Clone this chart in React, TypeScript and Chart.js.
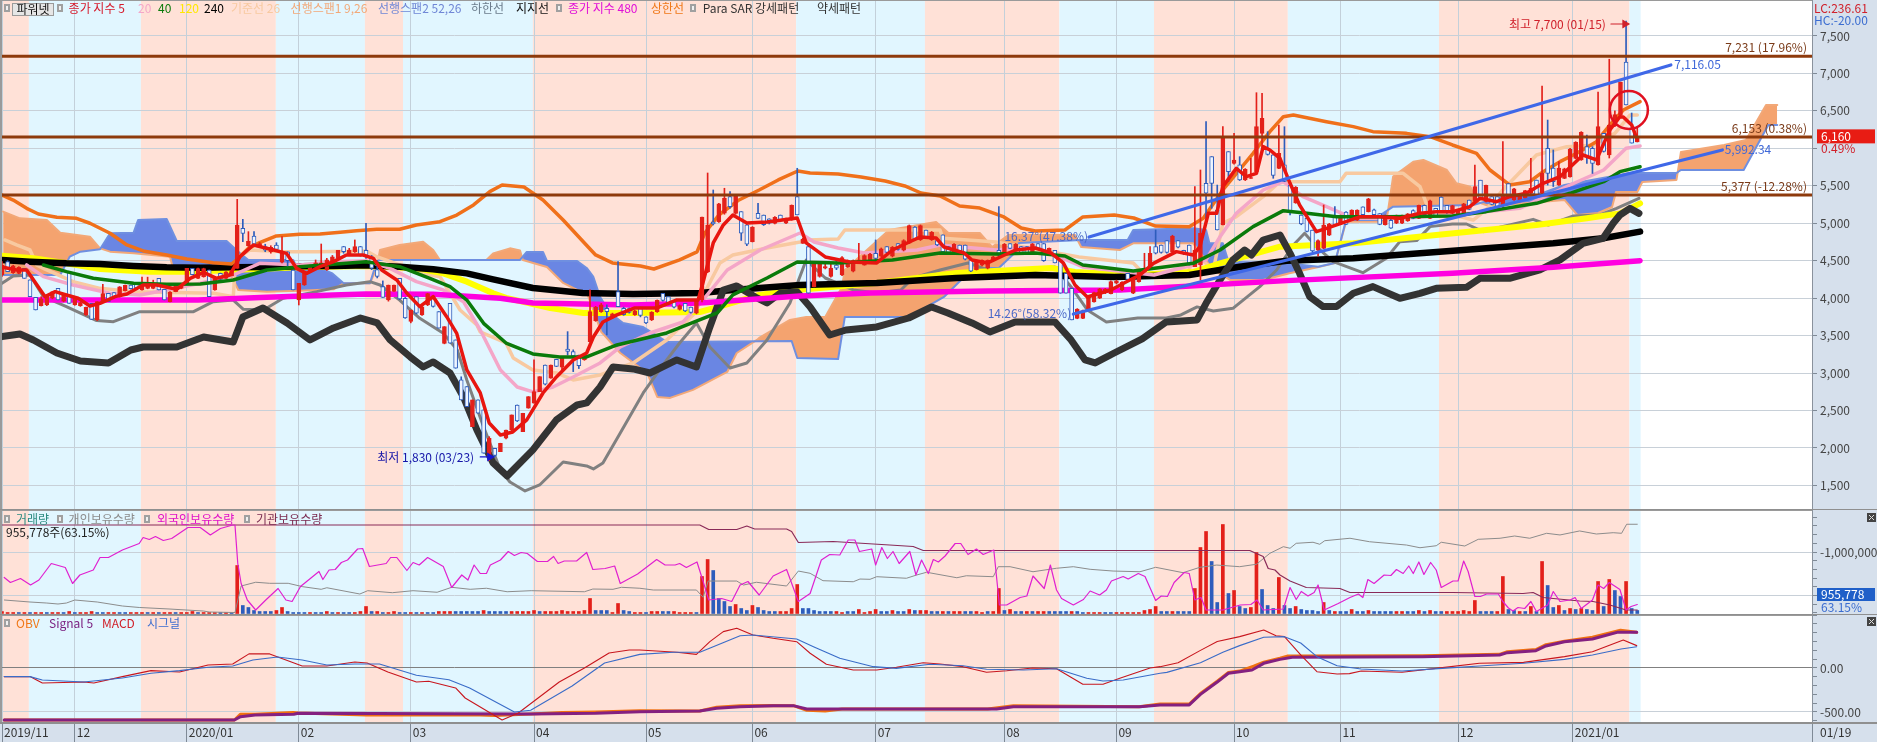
import React, { useEffect, useRef } from "react";
import { Chart, registerables } from "chart.js";

Chart.register(...registerables);

type Pt = [number, number];

const FONT = '"Noto Sans CJK KR", "Noto Sans", sans-serif';
const LAST_AXIS_DAY = 323.2;

// trading-day index of each month tick on the time axis
const monthDays = [0, 13, 33, 53, 73, 95, 115, 134, 156, 179, 199, 220, 239, 260, 280.5];
const monthLabels = ["2019/11", "12", "2020/01", "02", "03", "04", "05", "06", "07", "08", "09", "10", "11", "12", "2021/01"];

// background regimes: [from day, to day, kind]
const regimes: [number, number, string][] = [
  [0, 4.8, "p"], [4.8, 24.8, "b"], [24.8, 48.9, "p"], [48.9, 64.8, "b"], [64.8, 71.6, "p"], [71.6, 94.8, "b"],
  [94.8, 141.8, "p"], [141.8, 164.8, "b"], [164.8, 188.8, "p"], [188.8, 205.7, "b"], [205.7, 229.6, "p"],
  [229.6, 256.6, "b"], [256.6, 290.6, "p"], [290.6, 292.6, "b"],
];

// candles by day: [open, high, low, close]
const candles: number[][] = [
  [4309,4487,4290,4443],[4487,4500,4354,4354],[4340,4440,4330,4430],[4330,4420,4325,4415],[4398,4398,4265,4265],[4243,4243,4020,4020],[4011,4011,3842,3842],[3900,4020,3895,3990],[3908,4040,3900,4042],[4000,4090,3990,4085],
  [4131,4131,3975,3975],[3960,4065,3950,4060],[4354,4354,3931,3931],[3910,4020,3905,4015],[3900,3945,3890,3940],[3775,3880,3770,3877],[3931,3931,3717,3717],[3709,3953,3700,3953],[3950,4185,3945,4060],[4065,4065,3953,3953],
  [4075,4075,4010,4012],[4020,4155,4015,4150],[4100,4176,4095,4170],[4176,4176,4120,4125],[4198,4198,4130,4135],[4110,4280,4105,4200],[4130,4280,4125,4200],[4130,4240,4125,4200],[4265,4265,4110,4110],[4118,4118,3975,3975],
  [3953,4087,3950,4080],[4087,4176,4085,4170],[4131,4200,4125,4195],[4198,4398,4195,4398],[4398,4398,4310,4315],[4265,4400,4260,4395],[4287,4400,4280,4395],[4376,4376,4020,4020],[4109,4265,4105,4260],[4330,4335,4245,4250],
  [4265,4355,4260,4350],[4300,4376,4295,4370],[4398,5319,4398,4977],[4932,5052,4754,4865],[4700,4888,4690,4760],[4830,4888,4700,4720],[4700,4745,4690,4730],[4690,4720,4620,4640],[4620,4700,4600,4680],[4710,4740,4640,4650],
  [4480,4821,4470,4620],[4620,4620,4400,4500],[4376,4376,4110,4110],[3975,4198,3909,4198],[4176,4354,4170,4354],[4354,4440,4340,4440],[4440,4510,4400,4470],[4430,4723,4420,4470],[4380,4532,4370,4510],[4490,4570,4480,4550],
  [4530,4640,4520,4640],[4690,4690,4600,4620],[4590,4665,4580,4640],[4620,4777,4610,4690],[4690,4690,4560,4580],[4640,5000,4530,4560],[4550,4570,4380,4400],[4380,4500,4270,4290],[4155,4230,4010,4010],[3975,4175,3960,4175],
  [4090,4176,4090,4176],[4265,4265,3980,3990],[3997,4010,3730,3735],[3690,3840,3670,3840],[4020,4020,3790,3800],[3775,3890,3770,3885],[3910,4065,3900,4060],[3998,4000,3880,3890],[3820,3820,3600,3600],[3397,3620,3390,3620],
  [3930,3930,3400,3400],[3442,3442,3064,3064],[2908,2950,2641,2641],[2819,2819,2552,2552],[2285,2641,2285,2641],[2641,2641,2463,2463],[2508,2508,1929,1929],[1890,2151,1830,2130],[1996,1996,1885,1900],[1952,2063,1952,2063],
  [2130,2240,2120,2240],[2240,2441,2230,2441],[2574,2574,2352,2360],[2218,2463,2218,2463],[2530,2686,2530,2686],[2597,3175,2597,2752],[2752,2952,2752,2952],[3108,3108,2841,2850],[2930,3108,2930,3108],[3184,3184,3086,3090],
  [3080,3220,3020,3200],[3320,3553,3240,3290],[3286,3310,3019,3228],[3240,3240,3060,3100],[3180,3240,3170,3240],[3420,4110,3420,3820],[3700,3890,3690,3880],[3820,3930,3810,3910],[3865,3910,3509,3820],[3740,3800,3730,3790],
  [4087,4488,3887,3887],[3865,3880,3770,3780],[3860,3870,3800,3810],[3780,3840,3770,3830],[3880,3880,3750,3770],[3750,3750,3660,3670],[3710,3820,3700,3810],[3820,3976,3810,3970],[4065,4065,3960,3970],[4020,4020,3910,3920],
  [3950,3950,3870,3880],[3850,3910,3840,3900],[3930,3930,3820,3830],[3880,3880,3800,3810],[3800,3980,3790,3970],[3976,5083,3950,5083],[4350,5671,4340,4977],[5017,5444,4977,4990],[5022,5266,5010,5260],[5133,5467,5120,5333],
  [5356,5422,5200,5222],[5130,5380,5120,5370],[5155,5155,4770,4866],[4980,5000,4700,4720],[4755,4955,4750,4950],[5133,5267,5060,5066],[5110,5110,4970,4980],[5060,5060,4990,5000],[4999,5090,4990,5080],[5110,5110,5020,5030],
  [5000,5070,4995,5065],[5044,5245,5040,5240],[5355,5734,5111,5111],[4730,4800,4730,4790],[4688,4733,4065,4065],[4154,4466,4150,4460],[4290,4466,4280,4460],[4400,4470,4390,4420],[4290,4470,4280,4400],[4440,4510,4380,4400],
  [4310,4555,4300,4540],[4420,4510,4410,4500],[4360,4510,4350,4500],[4470,4733,4460,4510],[4440,4580,4440,4570],[4510,4600,4500,4590],[4600,4777,4480,4530],[4560,4670,4550,4660],[4690,4690,4600,4610],[4560,4690,4550,4680],
  [4730,4730,4640,4650],[4640,4780,4630,4770],[4733,4977,4730,4970],[4950,4955,4770,4780],[4780,4977,4770,4970],[4910,4910,4800,4810],[4780,4890,4770,4880],[4770,4780,4700,4710],[4844,4844,4600,4620],[4690,4690,4600,4610],
  [4600,4730,4590,4720],[4710,4710,4620,4630],[4710,4710,4510,4520],[4510,4510,4355,4360],[4380,4510,4375,4505],[4440,4510,4430,4505],[4400,4510,4390,4505],[4510,4560,4500,4550],[4640,5222,4550,4570],[4600,4730,4595,4720],
  [4730,4730,4660,4665],[4640,4730,4630,4720],[4690,4690,4600,4600],[4690,4690,4580,4580],[4620,4730,4610,4725],[4730,4730,4660,4665],[4730,4730,4490,4500],[4580,4670,4575,4665],[4640,4640,4470,4470],[4510,4510,4065,4065],
  [4330,4330,4065,4065],[4130,4130,3710,3710],[3730,3860,3725,3855],[3730,3840,3725,3835],[3860,4020,3855,4010],[3950,4080,3945,4075],[4000,4130,3995,4125],[4070,4130,4060,4120],[4060,4230,4055,4220],[4200,4240,4190,4230],
  [4109,4220,4100,4210],[4330,4330,4240,4250],[4067,4280,4060,4270],[4220,4373,4215,4370],[4350,4599,4340,4370],[4420,4688,4415,4598],[4689,4910,4590,4600],[4710,4710,4600,4610],[4770,4770,4600,4610],[4620,4840,4615,4830],
  [4770,4770,4670,4680],[4640,4640,4580,4590],[4710,4710,4440,4450],[4420,5489,4420,4643],[4443,5711,4240,4866],[5533,6356,5066,5400],[5889,5889,5200,5533],[5177,5510,4910,4910],[4977,6289,4977,6156],[5956,5956,5555,5689],
  [5800,6200,5790,5845],[5780,5889,5570,5580],[5580,5730,5570,5720],[5600,5867,5600,5610],[5689,6743,5689,6290],[6200,6735,6000,6400],[6000,6222,5910,5920],[5912,5930,5600,5640],[5733,6312,5730,5933],[5780,6289,5555,5560],
  [5510,5510,5110,5155],[5270,5490,5266,5480],[5110,5110,4980,4990],[5065,5065,4885,4890],[4910,4910,4620,4630],[4640,4780,4560,4770],[4665,5244,4660,4977],[4840,4999,4835,4990],[5090,5221,4980,4985],[5000,5110,4995,5105],
  [5150,5155,4980,4985],[5040,5180,5035,5175],[5040,5180,5035,5175],[5220,5220,5110,5115],[5155,5333,5150,5325],[5180,5190,5110,5115],[5130,5130,4980,4985],[4980,5110,4975,5105],[5040,5060,4930,4935],[5000,5110,4995,5105],
  [5000,5110,4995,5105],[5030,5130,5025,5125],[5170,5180,5060,5065],[5065,5244,5060,5240],[5240,5244,5110,5115],[5065,5310,5060,5300],[5200,5200,5090,5100],[5350,5355,5155,5160],[5240,5240,5130,5140],[5130,5240,5125,5235],
  [5110,5180,5105,5175],[5130,5266,5125,5260],[5310,5310,5180,5185],[5290,5778,5285,5490],[5575,5575,5310,5320],[5290,5510,5285,5505],[5355,5355,5245,5250],[5355,5355,5200,5205],[5245,6089,5180,5380],[5530,5530,5355,5360],
  [5310,5466,5305,5460],[5290,5380,5285,5375],[5335,5440,5330,5435],[5400,5867,5395,5466],[5578,5578,5375,5380],[5400,6832,5395,5666],[6000,6378,5510,5666],[5735,5978,5490,5555],[5510,5822,5505,5735],[5600,5735,5595,5725],
  [5620,6000,5615,5990],[5867,6089,5860,6080],[5845,6223,5840,6215],[6022,6178,5800,5890],[6000,6022,5665,5800],[5778,6752,5775,6290],[6200,6200,5950,5960],[5911,7190,5871,6312],[6300,6500,6290,6450],[6445,6885,6440,6885],
  [7153,7700,6579,6579],[6270,6472,6070,6070],[6085,6285,6085,6160],
];

const ma5: Pt[] = [[0.2,4412],[2.6,4376],[4.4,4376],[7.7,4020],[9.5,4087],[11.5,4042],[13.6,3998],[15.7,3895],[17.5,3931],[20.2,4020],[22.3,4056],[25.2,4176],[27.6,4176],[31.2,4118],[33.6,4265],[36,4345],[38.3,4265],[40.7,4309],[42.5,4554],[44.9,4710],[48.5,4643],[50.8,4598],[52.6,4398],[54.4,4331],[56.8,4420],[59.2,4487],[61.5,4576],[64.5,4576],[66.3,4532],[67.8,4376],[70.5,4243],[72.3,4065],[74.6,3887],[77,4020],[79.4,3753],[81.2,3530],[83,3041],[85.4,2734],[87,2333],[89,2173],[91.2,2213],[93.7,2374],[96.6,2734],[99,2948],[102,3175],[104.4,3268],[105.6,3482],[107.3,3682],[109.8,3776],[113,3870],[117,3869],[120.5,3976],[124.3,3976],[125.2,4216],[127,4737],[128.8,4977],[130.5,5110],[133,5003],[136.6,5017],[142,5070],[143.6,4737],[147,4550],[151.3,4483],[156.2,4470],[159,4643],[162,4750],[164,4817],[166.8,4803],[168.2,4683],[171.8,4603],[173.2,4510],[176,4470],[179,4576],[181,4643],[184.5,4670],[187.3,4603],[189.5,4470],[191.6,4176],[193.8,4016],[198,4109],[200.7,4216],[203.2,4309],[205.6,4465],[209.7,4621],[212.7,4576],[213.9,4688],[215.4,5132],[216.9,5132],[218,5489],[220.4,5733],[222.2,5622],[224,5667],[225.2,6023],[226.4,5978],[228.2,5867],[230,5533],[231.7,5244],[234.7,4888],[236.5,4932],[240,5021],[242.5,5088],[246,5088],[249.6,5066],[253.2,5133],[256.1,5155],[259,5155],[262.1,5221],[263.9,5333],[266.9,5288],[269.2,5355],[272.2,5400],[275.2,5533],[278.2,5622],[282.3,5911],[284.7,5845],[287.1,6245],[288.9,6423],[289.5,6420],[291,6312],[292,6112]];
const ma20: Pt[] = [[4.4,4443],[7.4,4287],[12.7,4176],[19.3,4065],[24.6,4042],[29.4,4109],[35.4,4198],[41.3,4309],[46,4465],[53.2,4443],[59.2,4487],[65,4501],[69.3,4398],[74,4220],[78.8,4109],[82.4,3953],[85.4,3575],[89,3041],[92,2814],[94.8,2748],[98.4,2814],[102,2948],[106.8,3135],[110.4,3348],[115.7,3535],[121.6,3682],[125.2,3976],[129.5,4376],[135.4,4643],[142.5,4870],[145,4750],[149.3,4670],[154,4603],[163.4,4643],[167.5,4710],[177.5,4643],[184.5,4683],[188.8,4550],[193,4416],[205.7,4309],[212.7,4443],[215,4510],[217.5,4821],[220.4,5132],[225.2,5444],[228.8,5555],[232.3,5355],[236.5,5222],[241.3,5066],[250.2,5066],[259,5110],[271,5199],[280,5511],[286,5711],[290,6000],[292.5,6031]];
const ma40: Pt[] = [[7.4,4443],[11.5,4354],[16.3,4265],[23.5,4198],[29.4,4185],[35.4,4190],[41.3,4242],[47.3,4376],[53.2,4420],[65,4487],[71,4420],[76.4,4265],[80,4153],[83,3975],[86,3664],[90,3401],[94.8,3255],[99.6,3215],[104.4,3215],[109.8,3375],[118.7,3535],[127.7,3802],[130.5,4043],[136.6,4269],[142,4483],[149.3,4470],[159,4510],[167.5,4603],[177.5,4590],[184.5,4603],[189.8,4563],[193,4443],[202,4363],[212.7,4465],[217.5,4643],[223.4,4955],[228.8,5168],[233,5132],[238.3,5088],[247.2,5088],[259,5097],[265,5155],[274,5266],[280,5400],[286,5555],[288.9,5689],[292.5,5755]];
const ma120: Pt[] = [[0,4567],[5.6,4532],[11.5,4465],[17.5,4389],[26.4,4354],[33,4354],[41.3,4376],[53.2,4412],[65,4429],[74,4398],[78.8,4331],[83,4220],[87.7,4065],[90,4003],[97.9,3869],[103.8,3802],[112.7,3802],[124.6,3815],[127.3,3869],[135.2,4043],[142,4109],[156.2,4203],[170.4,4336],[187.4,4403],[191.6,4349],[202,4309],[212.7,4349],[217.5,4465],[228.2,4687],[241.3,4732],[253,4821],[265,4910],[274,4977],[283,5066],[288.9,5132],[292.5,5266]];
const ma240: Pt[] = [[0,4509],[5,4487],[11.5,4465],[17.5,4456],[23.5,4429],[29.4,4412],[35.4,4407],[41.3,4412],[47.3,4416],[53.2,4425],[59.2,4429],[65.1,4438],[71,4420],[77,4385],[83,4331],[87.7,4251],[94.8,4136],[103.7,4069],[112.7,4056],[124.6,4069],[130.5,4109],[142.5,4176],[156.2,4203],[170.4,4269],[184.5,4309],[198.6,4283],[212,4309],[221,4420],[229.4,4500],[241.3,4532],[253.2,4598],[265,4665],[277,4732],[285.9,4799],[292.5,4888]];
const ma480: Pt[] = [[0,3975],[17.5,3975],[35,3975],[47.3,4011],[59.2,4042],[65,4056],[77,4051],[89,3998],[94.8,3935],[112.7,3909],[124.6,3935],[142.5,4030],[155,4069],[176,4096],[199.6,4109],[229.4,4234],[259,4331],[277,4411],[292.5,4500]];
const kijun26: Pt[] = [[0.5,4777],[2.6,4710],[5,4643],[6.2,4443],[7.4,4398],[12.7,4220],[17.5,4131],[23.5,4087],[37.8,4065],[41.3,4020],[41.6,4376],[42.2,4554],[44.3,4643],[50.2,4621],[56.2,4621],[65.1,4630],[66.9,4554],[71,4443],[74.6,4331],[78.2,4287],[81.8,3842],[84.8,3642],[85.4,3549],[90,3401],[91.3,3202],[94.8,3041],[99,3001],[102,2908],[106.8,2975],[112.7,3135],[118.7,3442],[123.4,3776],[128.2,4470],[130.5,4576],[136.6,4670],[142.5,4750],[144,4777],[149.3,4790],[150.5,4910],[159,4910],[167.5,4910],[168,4800],[177.5,4750],[192.3,4550],[202,4470],[204.4,4287],[211.5,4287],[212.4,4465],[214,4530],[216.3,4376],[218,5000],[220.4,5088],[225.2,5355],[228.2,5555],[238.9,5555],[240,5666],[250.2,5666],[253.2,5488],[255,5132],[260.3,5088],[262.7,5043],[265,5177],[268,5444],[274,5911],[279.4,6023],[284,6040],[288,6200],[290.7,6445],[292,6445]];
const span1: Pt[] = [[0.2,5155],[3.2,5066],[8,5044],[10.4,4874],[15.7,4821],[17.5,4665],[19.3,4621],[23.5,4598],[30,4554],[30.6,4376],[37,4376],[41,4287],[42.2,4109],[47.3,4087],[53.2,4100],[59.2,4118],[61,4198],[65.7,4198],[66.9,4400],[67.5,4643],[71,4710],[75.2,4754],[77,4643],[78.2,4510],[86.5,4510],[87.7,4598],[90.7,4665],[92.5,4635],[93,4510],[97.3,4416],[100.2,4203],[102.7,4109],[104.4,4083],[107,3549],[110.4,3268],[115.2,3001],[117,2681],[119.3,2668],[123.4,2775],[129.5,3015],[131.2,3268],[134.8,3442],[135.2,3469],[140.7,3709],[143.6,3749],[147,3749],[150,4149],[150.5,4376],[158.4,4910],[166.8,5017],[169,4870],[174.6,4870],[176.8,4683],[179.7,4843],[191.6,4843],[192.7,4683],[199.6,4643],[202,4732],[212.7,4732],[216.3,4376],[219.3,4243],[225.2,4243],[229.9,4332],[235.3,4420],[238,4470],[240,5021],[247.2,5021],[248.4,5622],[252,5822],[253.8,5845],[258,5711],[259.7,5533],[262.2,5488],[263.3,5288],[265,5244],[268,5244],[279,5311],[281.3,5110],[285,5137],[287.5,5217],[288.2,5417],[292,5417],[292.9,5551],[299,5578],[299.8,5951],[307.5,6045],[311.4,6112],[315,6579],[317,6579]];
const span2: Pt[] = [[0.2,4309],[10.4,4309],[12.1,4554],[14,4621],[17.5,4652],[19.3,4866],[23.5,4874],[24.3,5043],[29.4,5057],[31.2,4763],[40.1,4763],[42.5,4598],[44,4510],[52,4510],[52.6,4420],[56.2,4420],[59,4330],[61,4198],[65.7,4198],[66.9,4487],[67.5,4510],[92.5,4510],[93.7,4616],[96.6,4616],[97.3,4496],[102.7,4496],[104.4,4403],[105.6,4283],[106.8,4016],[108.6,3802],[110.9,3669],[114.5,3615],[118.7,3415],[141,3428],[142,3201],[149.3,3188],[150.5,3749],[162,3749],[168.2,4016],[172.5,4336],[174.6,4403],[178,4403],[181,4616],[181.6,4737],[192.7,4777],[201,4777],[202,4910],[212.7,4932],[215,4910],[215.6,4732],[218,4732],[219,4487],[229.4,4465],[235,4420],[238,4470],[240,5043],[244.8,5043],[248.4,5221],[262.7,5244],[268,5355],[275,5400],[279,5511],[290.7,5671],[299,5671],[299.8,5711],[311,5711],[315.4,6312],[317,6312]];
const lowerBand: Pt[] = [[0,4198],[2,4296],[5,4309],[7.4,4020],[11.5,3887],[16.9,3700],[19.9,3686],[24.6,3820],[34.2,3820],[37.7,3953],[41.3,3975],[43.1,3851],[46.7,3842],[50.2,3998],[56.2,4087],[61.5,4176],[65.7,4220],[67.5,4176],[71,3975],[74.6,3731],[78.8,3530],[81.3,3308],[83,2908],[86,2280],[89,1706],[90.7,1546],[93.4,1426],[96,1506],[100.2,1813],[104.4,1760],[105.6,1720],[107.3,1800],[110.4,2200],[114.5,2734],[118.7,3175],[121,3401],[124,3669],[126.4,3348],[130,3068],[133,3135],[136.6,3442],[140.7,3936],[143.6,4510],[147,4269],[152,4109],[156.2,4069],[160.5,4109],[162.7,4269],[167.5,4376],[172.5,4470],[176,4376],[184.5,4376],[188,4416],[190.9,4149],[193.8,3842],[197.2,3682],[202.8,3735],[207.9,3735],[210.5,3776],[213.4,3883],[216.3,3829],[219.8,3864],[224.6,4154],[227.6,4376],[230.6,4710],[232.6,4866],[234.7,4688],[237.7,4487],[243,4340],[247.2,4532],[249.6,4754],[252.6,4768],[255,4955],[259,4990],[261.5,4990],[264.5,4888],[267.5,4946],[273.4,5052],[276.1,4977],[280.6,5097],[285.3,5110],[288.3,5199],[292.3,5333]];
const supportLine: Pt[] = [[0,3486],[3.2,3522],[5.6,3442],[9.8,3268],[14,3161],[19,3135],[23,3308],[25.2,3348],[31.2,3348],[36,3482],[41.3,3415],[43,3749],[46.6,3869],[50.9,3669],[55,3442],[59.2,3602],[64,3735],[67,3669],[69.3,3442],[72.9,3215],[75.2,3081],[77,3148],[80,3001],[82.4,2681],[84.8,2240],[87.7,1800],[90.2,1626],[94.8,1974],[99,2374],[102.7,2574],[104.4,2601],[106.8,2814],[109.1,3081],[112.7,3055],[115.7,3001],[120.5,3175],[124,3081],[126.4,3615],[128.8,4109],[131.2,4163],[134.8,4003],[136.6,3936],[139,4069],[142,4083],[144.3,3883],[147.8,3508],[150.7,3575],[156.2,3615],[161.9,3735],[166,3883],[168.9,3802],[173.2,3669],[176.4,3549],[180.9,3682],[188,3682],[190.9,3442],[193.4,3175],[195.2,3135],[198.6,3268],[203.6,3455],[207.9,3682],[213.4,3709],[215,3931],[217.5,4243],[219.8,4510],[221.9,4643],[223.1,4576],[225.2,4776],[228.2,4843],[230,4598],[231.7,4332],[233.5,4020],[235.9,3887],[238.3,3887],[241.3,4065],[244.8,4154],[249.6,3998],[253.2,4065],[256.1,4131],[261.5,4145],[263.9,4265],[269.2,4265],[274.6,4376],[278.2,4510],[282.3,4732],[285.9,4799],[287.7,4999],[288.9,5110],[290.7,5199],[292.3,5132]];
const upperBand: Pt[] = [[0,5377],[2,5310],[4.4,5199],[6.5,5124],[9.8,5079],[13.3,5066],[15.7,5000],[19.3,4866],[22.3,4710],[25.2,4630],[29.4,4576],[33,4523],[37.7,4474],[41,4456],[42.2,4532],[44,4665],[46,4741],[49,4830],[53.2,4852],[56.8,4857],[60.4,4879],[63.3,4901],[66.9,4919],[71,4919],[74,4977],[78.2,5021],[81.2,5110],[84.2,5244],[87.1,5422],[89.3,5511],[93.2,5484],[96.6,5311],[100.2,5044],[104,4737],[106,4577],[109,4470],[114,4430],[116.4,4389],[121,4510],[124.1,4617],[125.5,4870],[128,5110],[131.6,5311],[135.2,5444],[138.6,5578],[142.1,5698],[144.3,5671],[149.3,5657],[153.4,5618],[157.7,5564],[161.2,5498],[164.1,5404],[167.5,5364],[171,5230],[174.6,5203],[178.9,5084],[182,4937],[184.5,4897],[189.8,4910],[193,5084],[198.6,5110],[202.1,5070],[206,4963],[212,4954],[214.5,5066],[218,5444],[223.4,5934],[226.4,6223],[228.8,6423],[230.6,6445],[236.5,6356],[241.3,6290],[244.8,6223],[250.8,6200],[255,6156],[259,6045],[263.3,5934],[265.7,5711],[269.2,5511],[272.8,5555],[275.2,5689],[278.2,5822],[281.2,5934],[284.7,6089],[287.1,6312],[289.5,6512],[292.5,6623]];

const horizontals = [7231, 6153, 5377];
const upperTrend: Pt[] = [[194.1,4816],[298,7113]];
const lowerTrend: Pt[] = [[191.3,3788],[307.2,5978]];
const highArrow: Pt[] = [[287.3,7660],[289.8,7660]];
const lowArrow: Pt[] = [[85.4,1880],[87.1,1880]];
const circleMark: Pt[] = [[290.5,6512]];

// volume by day, in 10k shares: positive = up day, negative = down day
const volume = [
  2,1,1,-1,1,-1,1,1,-1,1, 1,-1,2,-1,1,1,2,-1,-1,1, 1,-1,-1,1,1,1,-1,1,-1,1, 1,-1,1,1,2,-1,1,1,1,-1,
  1,-1,48,-8,-6,-3,-2,-2,-2,3, 6,-2,-1,-1,-1,1,-1,-1,2,-1, 1,-1,-1,1,2,7,-2,2,-1,1, 2,-1,-1,1,-1,1,-1,-1,2,2,
  2,-2,-2,-2,-2,-2,3,-2,-2,-2, -2,2,2,2,2,3,-2,2,2,2, 3,2,2,2,3,15,-3,-3,-3,1, 10,-3,-2,1,1,-1,2,2,-2,-2,
  2,1,1,1,-1,37,54,-43,-15,-12, -7,9,-5,-3,8,-6,-3,-2,-2,2, 2,5,29,-5,-5,-3,-2,-2,-2,2, 1,-2,-2,4,1,2,4,-2,-2,3,
  -2,-2,4,-3,3,3,-2,-2,2,-2, 2,2,-2,-2,2,1,-2,2,25,-3, 4,-2,-2,2,-2,2,2,-2,-2,-2, -2,2,-2,-1,1,1,1,-1,-1,1,
  1,1,1,1,3,4,7,-2,-2,2, -2,-2,-2,25,66,82,-52,-11,89,-20, 23,-7,-5,6,61,-24,-8,-5,36,-8, -5,7,-4,-3,-3,-2,11,-3,2,-2,
  -2,4,-2,-2,3,-2,-2,-2,-2,2, 2,-2,-2,3,-2,3,-2,-2,2,2, 2,3,2,13,-2,-2,-2,2,37,-4, -3,2,-2,7,-2,52,-28,-6,8,-3,
  5,-4,5,-4,-3,32,-7,34,-23,-17, 32,-5,-3,
];

// holdings, in thousands of shares
const foreignHold: Pt[] = [[0.4,1009],[1.5,999],[3.3,1007],[5.1,994],[6.6,1004],[8.8,1037],[11.3,1029],[12.6,997],[13.9,1014],[16.3,1024],[17.5,1049],[19,1049],[21.5,1064],[24.5,1077],[25.2,1089],[26.3,1085],[27.4,1091],[28.8,1083],[30.3,1087],[33.2,1109],[35.4,1109],[37.2,1094],[39,1107],[41.2,1114],[41.6,1114],[42.1,1037],[42.7,997],[43.8,964],[45.3,944],[47.1,964],[49.3,987],[50.7,964],[51.8,961],[53.3,991],[56.6,1021],[57.3,1005],[58.4,1024],[59.5,1025],[60.6,1039],[61.7,1044],[63.5,1066],[64.4,1067],[65.6,1031],[68.6,1037],[69.4,1049],[70.5,1049],[72.3,1023],[73.4,1039],[74.5,1034],[76,1049],[78.8,1031],[80.3,989],[82.1,1014],[83.2,1004],[84.3,1034],[85.4,1017],[86.5,1017],[87.2,1034],[89,1044],[90.4,1061],[91.5,1053],[92.7,1059],[93.8,1057],[95.6,1041],[97.4,1041],[98.5,1051],[99.3,1037],[100.4,1042],[102.6,1042],[104.4,1059],[105.5,1025],[107.7,1027],[109.4,1032],[110.4,997],[113.5,1016],[116.9,1045],[118.4,1034],[120.2,1034],[121,1037],[122.2,1029],[124.1,1040],[125.2,1001],[126.2,964],[128.5,967],[130.3,961],[131.8,994],[133.2,1001],[135.2,974],[137.7,1012],[140.1,1025],[142.2,961],[144.3,977],[146.3,1044],[147.8,1055],[149.6,1054],[151.1,1084],[152.3,1084],[153.1,1061],[155.3,1066],[156,1034],[157.1,1069],[158.1,1047],[159.1,1061],[160.2,1037],[162.1,1061],[163.2,1014],[164.2,1044],[165.4,1017],[166.3,1045],[167.2,1040],[168.4,1052],[170.2,1077],[171.2,1077],[172.5,1055],[174,1066],[175.2,1055],[177.1,1064],[178.1,954],[179.4,954],[181.8,969],[183,972],[184.1,1012],[186.1,987],[187.2,1034],[188.3,984],[189.2,967],[191.3,954],[193.1,965],[194.3,982],[196,974],[197.2,984],[198.1,1002],[200.2,1011],[201.1,1006],[202.9,1017],[204.1,1011],[206,963],[207,972],[208.1,971],[209.3,999],[211.1,1019],[212,1017],[213,964],[214.1,969],[215,944],[218,944],[221.1,954],[223,955],[224.1,964],[225.2,944],[228.8,946],[230,989],[231.1,965],[232,981],[233.2,972],[234.3,979],[235,994],[236.1,944],[238.6,957],[240.7,969],[242.2,976],[243,969],[243.9,1005],[245,997],[246.8,1014],[248,1013],[249,1025],[250.2,1017],[251.2,1032],[252,1017],[253,1040],[253.9,1015],[255.1,1039],[256.1,1024],[257,989],[259.1,1002],[260,1002],[261,1042],[261.8,1021],[263,971],[264,971],[265.1,976],[267.2,976],[268,961],[269,948],[269.8,942],[270.7,949],[271.9,947],[273,961],[274,941],[276,954],[277,981],[278.2,961],[280,964],[280.9,969],[282,947],[284,964],[285,994],[286,987],[287,999],[288.9,985],[290,944],[290.9,951],[292,955]];
const individualHold: Pt[] = [[0.4,-1552],[5,-1575],[8,-1587],[10,-1598],[11.5,-1587],[13,-1552],[17,-1575],[21.5,-1621],[24.5,-1638],[30,-1656],[36,-1679],[37,-1690],[41.6,-1696],[42.7,-1391],[45.3,-1348],[47.8,-1360],[51.1,-1360],[53.7,-1399],[57,-1429],[58,-1411],[63.9,-1483],[65.3,-1445],[69.7,-1468],[73.4,-1445],[77.7,-1463],[80.3,-1406],[83.6,-1429],[86.5,-1417],[90.2,-1457],[94.5,-1445],[104,-1457],[105.5,-1426],[109.1,-1429],[110.6,-1406],[113.9,-1417],[116.3,-1437],[121.6,-1437],[124,-1437],[125.2,-1521],[126.1,-1334],[131.2,-1334],[132.4,-1380],[134.7,-1348],[140.1,-1391],[142.2,-1219],[144.3,-1245],[146.6,-1330],[152,-1342],[153.2,-1311],[155,-1314],[156.2,-1284],[161.5,-1302],[163.3,-1265],[165.1,-1233],[170.5,-1296],[172.2,-1273],[177,-1284],[177.9,-1169],[180,-1169],[184.1,-1227],[188.3,-1187],[191.3,-1169],[194.3,-1199],[198.4,-1219],[203.2,-1227],[206,-1176],[210.9,-1238],[213.9,-1176],[216.9,-1150],[221,-1169],[224,-1141],[226.4,-1015],[228.8,-939],[230,-957],[231.1,-900],[234.1,-888],[235.3,-911],[236.2,-870],[240.7,-842],[244.2,-882],[250.8,-920],[253.2,-951],[256.1,-928],[257,-888],[261.2,-931],[263.6,-854],[267.5,-842],[270.1,-816],[272.8,-842],[275.8,-785],[278.2,-804],[281.7,-758],[284.7,-793],[287.7,-778],[289.2,-785],[290.1,-681],[292,-681]];
const institutionHold: Pt[] = [[0,1114],[124.6,1114],[126.2,1105],[131.2,1105],[133,1112],[134.4,1106],[140.1,1106],[141,1101],[142.2,1079],[148.4,1081],[158.5,1074],[162.7,1071],[164.5,1063],[222.8,1063],[224,1057],[225.2,1051],[226.1,1027],[227.3,1024],[228.2,1014],[230,1002],[232.9,989],[238.9,987],[240.7,979],[259,979],[271.6,977],[273.4,979],[275.2,969],[277,967],[281.7,962],[284.1,961],[287.1,954],[290,944],[292,944]];

const macd: Pt[] = [[0.4,-98],[5,-98],[7.2,-170],[14.6,-159],[16.4,-170],[21.5,-98],[26.6,-30],[31.7,-45],[36.8,34],[41.2,45],[44.1,160],[47.8,160],[53.6,23],[58,23],[63,68],[65.2,57],[68.9,-45],[74,-159],[76.2,-150],[81,-227],[82.7,-341],[89.3,-591],[92.2,-511],[99.5,-159],[104,0],[108.4,170],[112,204],[113.9,204],[120.5,178],[124,155],[126.4,299],[128.8,413],[131.2,451],[134.1,375],[137.7,337],[141.9,299],[144.3,167],[147.2,42],[152,-23],[156.2,-23],[159.7,8],[164.5,60],[167.5,45],[171.6,15],[175.8,-49],[179.4,-31],[184,0],[188.3,-8],[193,-185],[196.6,-185],[199.6,-117],[205,0],[206.8,15],[210,60],[214,200],[217,300],[221,356],[225.3,432],[227.5,367],[229,356],[231.9,148],[234.8,-42],[238.4,-68],[240.6,-64],[242.7,-34],[250,-49],[257.2,4],[263.8,53],[271.7,64],[279,129],[284,185],[289.5,318],[291.9,254]];
const macdSignal: Pt[] = [[0.4,-98],[5,-98],[7.2,-136],[14.6,-159],[21.5,-114],[26.6,-60],[31.7,-30],[36.8,8],[41.2,23],[44.8,91],[49.2,125],[53.6,91],[58,34],[63,45],[67.4,45],[74,-83],[79.8,-133],[83.5,-227],[91.5,-500],[94.4,-480],[101.8,-205],[107.6,57],[113.9,155],[119.9,178],[124.6,178],[131.8,367],[134.1,375],[141.9,330],[144.9,242],[149.6,110],[155.6,15],[159.7,-4],[165.7,42],[171.6,26],[175.8,-15],[182.4,-23],[188.3,-8],[193.7,-117],[196.6,-148],[200.2,-136],[206.8,-60],[208,-50],[214,60],[218,180],[221,254],[225.3,349],[229,356],[231.9,284],[234.8,129],[238.4,26],[242.7,-11],[250,-34],[257.2,-4],[264.5,26],[271.7,53],[279,98],[284,148],[289.1,216],[291.9,242]];
const obv: Pt[] = [[0.4,-591],[41.5,-591],[42.6,-525],[45.2,-525],[52,-505],[52.9,-510],[65,-535],[68,-535],[84,-530],[88,-540],[94.4,-523],[100,-505],[106,-500],[113.9,-485],[124.6,-489],[127.6,-445],[131.8,-430],[137.7,-425],[141.3,-428],[143.7,-480],[147,-490],[150,-466],[176,-466],[180.6,-430],[203,-440],[206.8,-410],[212,-410],[214,-290],[217,-150],[219,-50],[221,-35],[223.5,20],[225.3,65],[228.2,110],[229.5,135],[253.6,140],[267.4,155],[268.8,185],[273.9,210],[275.7,265],[279,305],[284,350],[289,430],[291.9,405]];
const obvSignal: Pt[] = [[0.4,-591],[41.5,-591],[42.6,-553],[45.2,-534],[52.1,-526],[52.9,-515],[94.4,-523],[106,-515],[113.9,-496],[124.6,-489],[127.6,-458],[131.8,-440],[137.7,-428],[141.3,-428],[143.7,-466],[177.6,-466],[180.6,-440],[203.2,-440],[206.8,-420],[212,-420],[214,-300],[217,-160],[219,-60],[221,-42],[223.2,-23],[225.3,53],[228.2,98],[230.4,121],[253.6,129],[267.4,148],[268.8,174],[273.9,197],[275.7,250],[279,299],[284,330],[288.4,405],[291.9,405]];

const priceTicks = [1500, 2000, 2500, 3000, 3500, 4000, 4500, 5000, 5500, 6000, 6500, 7000, 7500];
const holdTicks = [-600, -700, -800, -900, -1000, -1100, -1200, -1300, -1400, -1500, -1600, -1700];
const macdTicks = [600, 500, 400, 300, 200, 100, 0, -100, -200, -300, -400, -500, -600];

const priceLegend: [number, string, string][] = [
  [68.6, "종가 지수 5", "#d61a2c"], [138, "20", "#f4a6c8"], [158, "40", "#0a7a0a"], [179, "120", "#ffe800"], [204, "240", "#000000"],
  [231, "기준선 26", "#f8c9a0"], [290.6, "선행스팬1 9,26", "#f2a878"], [378, "선행스팬2 52,26", "#6f86d6"], [471, "하한선", "#6b7c8c"],
  [516, "지지선", "#111111"], [568, "종가 지수 480", "#e010d8"], [651, "상한선", "#f07818"], [702.7, "Para SAR 강세패턴", "#333333"], [817, "약세패턴", "#333333"],
];
const holdLegend: [number, string, string][] = [
  [16, "거래량", "#2a8a80"], [68.6, "개인보유수량", "#8c8c8c"], [157, "외국인보유수량", "#e010c8"], [256, "기관보유수량", "#7a2a50"],
];
const macdLegend: [number, string, string][] = [
  [16, "OBV", "#f07818"], [49, "Signal 5", "#7a2080"], [102, "MACD", "#d0202a"], [147, "시그널", "#3a6cd0"],
];

// text tied to a day and a value on the price scale
const priceNotes: [number, number, string, string, CanvasTextAlign][] = [
  [286.4, 7660, "최고 7,700 (01/15)", "#d0202a", "right"],
  [84.3, 1880, "최저 1,830 (03/23)", "#1414a8", "right"],
  [322.3, 7353, "7,231 (17.96%)", "#7a3a18", "right"],
  [322.3, 6272, "6,153 (0.38%)", "#7a3a18", "right"],
  [322.3, 5497, "5,377 (-12.28%)", "#7a3a18", "right"],
  [298.6, 7120, "7,116.05", "#3f68d8", "left"],
  [307.6, 5982, "5,992.34", "#3f68d8", "left"],
  [179, 4830, "16.37°(47.38%)", "#4a68c8", "left"],
  [176, 3800, "14.26°(58.32%)", "#4a68c8", "left"],
];

function pts(list: Pt[]) {
  return list.map(([x, y]) => ({ x, y }));
}

function line(label: string, list: Pt[], color: string, width: number, yAxisID: string, order: number, extra: any = {}) {
  return {
    type: "line", label, data: pts(list), borderColor: color, borderWidth: width, pointRadius: 0, pointHoverRadius: 0,
    tension: 0, fill: false, yAxisID, order, borderJoinStyle: "round", borderCapStyle: "round", ...extra,
  };
}

const RED = "#e3201a";
const BLUE = "#2d5cbc";

function sharedX(showLabels: boolean) {
  return {
    type: "linear", min: 0, max: LAST_AXIS_DAY, offset: false,
    afterBuildTicks: (s: any) => { s.ticks = monthDays.map((value) => ({ value })); },
    afterFit: (s: any) => {
      s.height = showLabels ? 19 : 0;
      s.paddingLeft = 0; s.paddingRight = 0;
    },
    grid: { offset: false, color: "#c3d0da", lineWidth: 1, drawTicks: showLabels, tickLength: 19, tickColor: "#7f8a96" },
    border: { display: false },
    ticks: {
      display: showLabels, autoSkip: false, maxRotation: 0, minRotation: 0, align: "start", padding: -17, labelOffset: 2,
      color: "#333", font: { family: FONT, size: 12 },
      callback: (v: number) => { const i = monthDays.indexOf(v); return i >= 0 ? monthLabels[i] : ""; },
    },
  };
}

function rightAxis(min: number, max: number, values: number[], gridAt: (v: number) => string, label: (v: number) => string) {
  return {
    position: "right", min, max,
    afterBuildTicks: (s: any) => { s.ticks = values.map((value) => ({ value })); },
    afterFit: (s: any) => { s.width = 65; s.paddingTop = 0; s.paddingBottom = 0; },
    grid: {
      drawTicks: true, tickLength: 5, tickColor: "#7f8a96", lineWidth: 1,
      color: (c: any) => gridAt(c.tick ? c.tick.value : 0),
    },
    border: { display: true, color: "#8a929c", width: 1 },
    ticks: {
      autoSkip: false, padding: 3, color: "#444", font: { family: FONT, size: 12 },
      callback: (v: number) => label(v),
    },
  };
}

function hiddenAxis(min: number, max: number) {
  return { display: false, position: "right", min, max, grid: { display: false } };
}

function drawText(ctx: CanvasRenderingContext2D, text: string, x: number, y: number, color: string, align: CanvasTextAlign = "left") {
  ctx.fillStyle = color;
  ctx.textAlign = align;
  ctx.textBaseline = "middle";
  ctx.fillText(text, x, y);
}

function drawSquare(ctx: CanvasRenderingContext2D, x: number, y: number) {
  ctx.fillStyle = "#a0a0a0";
  ctx.fillRect(x - 3, y - 4, 6, 8);
  ctx.fillStyle = "#f0f0f0";
  ctx.fillRect(x - 1, y - 2, 2, 4);
}

function drawClose(ctx: CanvasRenderingContext2D, x: number, y: number) {
  ctx.fillStyle = "#444";
  ctx.fillRect(x - 4, y - 4, 9, 9);
  ctx.strokeStyle = "#ddd";
  ctx.lineWidth = 1;
  ctx.beginPath();
  ctx.moveTo(x - 2, y - 2); ctx.lineTo(x + 3, y + 3);
  ctx.moveTo(x + 3, y - 2); ctx.lineTo(x - 2, y + 3);
  ctx.stroke();
}

function chromePlugin(id: string, legend: [number, string, string][], legendY: number, squares: number[], paint: (chart: any, ctx: CanvasRenderingContext2D) => void) {
  return {
    id,
    beforeDraw(chart: any) {
      const ctx = chart.ctx as CanvasRenderingContext2D;
      const { chartArea: a, scales } = chart;
      const x = scales.x;
      ctx.save();
      ctx.fillStyle = "#ffffff";
      ctx.fillRect(0, 0, chart.width, chart.height);
      for (const [from, to, kind] of regimes) {
        const l = x.getPixelForValue(from);
        const r = x.getPixelForValue(to);
        ctx.fillStyle = kind === "p" ? "#ffe1d7" : "#e1f6ff";
        ctx.fillRect(l, a.top, r - l, a.bottom - a.top);
      }
      ctx.fillStyle = "#d6e0ec";
      ctx.fillRect(a.right, 0, chart.width - a.right, chart.height);
      ctx.fillRect(0, a.bottom, chart.width, chart.height - a.bottom);
      ctx.restore();
    },
    afterDraw(chart: any) {
      const ctx = chart.ctx as CanvasRenderingContext2D;
      const { chartArea: a } = chart;
      ctx.save();
      ctx.font = `12px ${FONT}`;
      ctx.fillStyle = "#9a9a9a";
      ctx.fillRect(0, 0, 2, a.bottom);
      ctx.fillRect(0, 0, a.right, 1);
      for (const [x, text, color] of legend) drawText(ctx, text, x, legendY, color);
      for (const x of squares) drawSquare(ctx, x, legendY);
      paint(chart, ctx);
      ctx.fillStyle = "#8f8f8f";
      ctx.fillRect(0, a.bottom - 1, chart.width, 2);
      ctx.restore();
    },
  };
}

function buildPriceChart(canvas: HTMLCanvasElement) {
  const wicks = candles.map((c, i) => ({ x: i, y: [c[2], c[1]] }));
  const bodies = candles.map((c, i) => ({ x: i, y: [Math.min(c[0], c[3]), Math.max(c[0], c[3])] }));
  const upColor = candles.map((c) => (c[3] >= c[0] ? RED : BLUE));
  const bodyFill = candles.map((c) => (c[3] >= c[0] ? RED : "#eef5ff"));
  const arrowRadii = [0, 4];
  return new Chart(canvas, {
    type: "line",
    data: {
      datasets: [
        line("선행스팬1", span1, "#f2a878", 2, "y", 30, { fill: { target: 1, above: "#f4a36f", below: "#6a86e3" } }),
        line("선행스팬2", span2, "#6f8fe0", 2, "y", 29),
        line("기준선", kijun26, "#f8c9a0", 3.5, "y", 24),
        line("하한선", lowerBand, "#808080", 3, "y", 23),
        line("120", ma120, "#ffff00", 6, "y", 22),
        line("240", ma240, "#000000", 6.5, "y", 21),
        line("상한선", upperBand, "#f0701a", 3.5, "y", 20),
        line("20", ma20, "#f4a6c8", 3.5, "y", 19),
        line("지지선", supportLine, "#333333", 7, "y", 18),
        line("480", ma480, "#ff00e0", 5.5, "y", 17),
        { type: "bar", label: "wick", data: wicks, backgroundColor: upColor, barThickness: 1, grouped: false, order: 16, yAxisID: "y" },
        { type: "bar", label: "body", data: bodies, backgroundColor: bodyFill, borderColor: upColor, borderWidth: 1, borderSkipped: false, barThickness: 4, grouped: false, order: 15, yAxisID: "y" },
        line("40", ma40, "#0a7a0a", 3.5, "y", 14),
        line("5", ma5, "#e8150f", 3.5, "y", 13),
        ...horizontals.map((v, i) => line(`level${i}`, [[0, v], [LAST_AXIS_DAY, v]], "#8e3a0c", 3, "y", 12)),
        line("upper trend", upperTrend, "#3f68e8", 3.2, "y", 11),
        line("lower trend", lowerTrend, "#3f68e8", 3.2, "y", 11),
        line("high", highArrow, "#d0202a", 1.2, "y", 10, { pointStyle: "triangle", pointRotation: 90, pointRadius: arrowRadii, pointBackgroundColor: "#d0202a", pointBorderColor: "#d0202a" }),
        line("low", lowArrow, "#1414d0", 1.2, "y", 10, { pointStyle: "triangle", pointRotation: 90, pointRadius: arrowRadii, pointBackgroundColor: "#1414d0", pointBorderColor: "#1414d0" }),
        line("circle", circleMark, "transparent", 0, "y", 9, { pointStyle: "circle", pointRadius: 19, pointBorderWidth: 2.5, pointBorderColor: "#e01020", pointBackgroundColor: "rgba(0,0,0,0)" }),
      ],
    },
    options: {
      responsive: false, animation: false, devicePixelRatio: 1,
      layout: { autoPadding: false, padding: { left: 2, right: 0, top: 0, bottom: 0 } },
      plugins: { legend: { display: false }, tooltip: { enabled: false } },
      events: [],
      scales: {
        x: sharedX(false),
        y: rightAxis(1171.6, 7980.6, priceTicks, () => "#c8d0d8", (v) => (v === 6000 ? "" : v.toLocaleString("en-US"))),
      },
    },
    plugins: [chromePlugin("priceChrome", priceLegend, 8, [7, 60, 559, 693], (chart, ctx) => {
      const { x, y } = chart.scales;
      for (const [day, value, text, color, align] of priceNotes) {
        drawText(ctx, text, x.getPixelForValue(day), y.getPixelForValue(value), color, align);
      }
      ctx.fillStyle = "#e6e6e6";
      ctx.fillRect(12, 3, 42, 13);
      ctx.strokeStyle = "#9a9a9a";
      ctx.lineWidth = 1;
      ctx.strokeRect(12.5, 3.5, 41, 12);
      drawText(ctx, "파워넷", 33, 9.5, "#111111", "center");
      drawText(ctx, "LC:236.61", 1814, 8, "#d0202a");
      drawText(ctx, "HC:-20.00", 1814, 20, "#3a6cd0");
      const tagY = y.getPixelForValue(6160);
      ctx.fillStyle = "#e81c14";
      ctx.fillRect(1817, tagY - 7, 58, 14);
      drawText(ctx, "6,160", 1821, tagY, "#ffffff");
      drawText(ctx, "0.49%", 1821, tagY + 12, "#d0202a");
    })],
  } as any);
}

function buildHoldChart(canvas: HTMLCanvasElement) {
  const bars = volume.map((v, i) => ({ x: i, y: Math.abs(v) }));
  return new Chart(canvas, {
    type: "line",
    data: {
      datasets: [
        { type: "bar", label: "거래량", data: bars, backgroundColor: volume.map((v) => (v >= 0 ? RED : BLUE)), barThickness: 3, grouped: false, order: 5, yAxisID: "yV" },
        line("개인보유수량", individualHold, "#8c8c8c", 1, "y", 4),
        line("기관보유수량", institutionHold, "#8a2a58", 1.2, "yF", 3),
        line("외국인보유수량", foreignHold, "#e020d0", 1.2, "yF", 2),
      ],
    },
    options: {
      responsive: false, animation: false, devicePixelRatio: 1,
      layout: { autoPadding: false, padding: { left: 2, right: 0, top: 0, bottom: 0 } },
      plugins: { legend: { display: false }, tooltip: { enabled: false } },
      events: [],
      scales: {
        x: sharedX(false),
        y: rightAxis(-1724.5, -517, holdTicks, (v) => (v === -1000 || v === -1500 ? "#c8d0d8" : "rgba(0,0,0,0)"), (v) => (v === -1000 ? "-1,000,000" : "")),
        yF: hiddenAxis(934, 1144),
        yV: hiddenAxis(-1.5, 103.5),
      },
    },
    plugins: [chromePlugin("holdChrome", holdLegend, 9, [7, 60, 147, 247], (chart, ctx) => {
      drawText(ctx, "955,778주(63.15%)", 6, 22, "#222222");
      ctx.fillStyle = "#1f5fc8";
      ctx.fillRect(1817, 78, 58, 13);
      drawText(ctx, "955,778", 1821, 84.5, "#ffffff");
      drawText(ctx, "63.15%", 1821, 97, "#3a6cd0");
      drawClose(ctx, 1871, 7);
    })],
  } as any);
}

function buildMacdChart(canvas: HTMLCanvasElement) {
  return new Chart(canvas, {
    type: "line",
    data: {
      datasets: [
        line("MACD", macd, "#c8161e", 1.1, "y", 3),
        line("시그널", macdSignal, "#3a6cc8", 1.1, "y", 2),
        line("OBV", obv, "#f07010", 3, "y", 5),
        line("Signal 5", obvSignal, "#842080", 3, "y", 4),
      ],
    },
    options: {
      responsive: false, animation: false, devicePixelRatio: 1,
      layout: { autoPadding: false, padding: { left: 2, right: 0, top: 0, bottom: 0 } },
      plugins: { legend: { display: false }, tooltip: { enabled: false } },
      events: [],
      scales: {
        x: sharedX(true),
        y: rightAxis(-625, 602, macdTicks, (v) => (v === 0 ? "#808080" : v === -500 ? "#c8d0d8" : "rgba(0,0,0,0)"), (v) => (v === 0 ? "0.00" : v === -500 ? "-500.00" : "")),
      },
    },
    plugins: [chromePlugin("macdChrome", macdLegend, 8, [7], (chart, ctx) => {
      const a = chart.chartArea;
      drawText(ctx, "01/19", 1820, a.bottom + 9, "#333333");
      ctx.fillStyle = "#7f8a96";
      ctx.fillRect(a.right, a.bottom, 1, chart.height - a.bottom);
      drawClose(ctx, 1871, 6);
    })],
  } as any);
}

export default function App() {
  const priceRef = useRef<HTMLCanvasElement>(null);
  const holdRef = useRef<HTMLCanvasElement>(null);
  const macdRef = useRef<HTMLCanvasElement>(null);

  useEffect(() => {
    const charts = [
      buildPriceChart(priceRef.current as HTMLCanvasElement),
      buildHoldChart(holdRef.current as HTMLCanvasElement),
      buildMacdChart(macdRef.current as HTMLCanvasElement),
    ];
    return () => charts.forEach((c) => c.destroy());
  }, []);

  const base: React.CSSProperties = { position: "absolute", left: 0, display: "block" };
  return (
    <div style={{ position: "absolute", left: 0, top: 0, width: 1877, height: 742, overflow: "hidden", background: "#fff" }}>
      <canvas ref={priceRef} width={1877} height={510} style={{ ...base, top: 0, width: 1877, height: 510 }} />
      <canvas ref={holdRef} width={1877} height={105} style={{ ...base, top: 510, width: 1877, height: 105 }} />
      <canvas ref={macdRef} width={1877} height={127} style={{ ...base, top: 615, width: 1877, height: 127 }} />
    </div>
  );
}
